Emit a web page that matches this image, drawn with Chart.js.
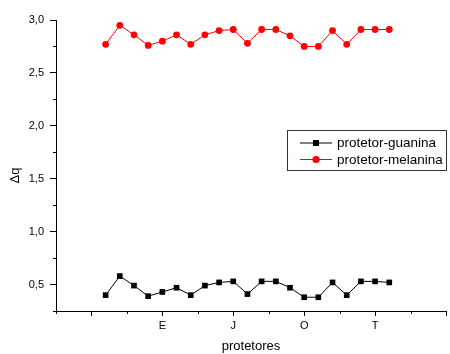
<!DOCTYPE html>
<html>
<head>
<meta charset="utf-8">
<script src="https://cdn.jsdelivr.net/npm/chart.js@4.4.0/dist/chart.umd.min.js"></script>
<style>
  html, body { margin: 0; padding: 0; background: #ffffff; }
  #wrap { width: 450px; height: 354px; }
</style>
</head>
<body>
<div id="wrap"><canvas id="grafico" width="450" height="354"></canvas></div>
<script>
// Posição de cada protetor no eixo x
const posicoes = [1, 2, 3, 4, 5, 6, 7, 8, 9, 10, 11, 12, 13, 14, 15, 16, 17, 18, 19, 20, 21];

// Δq medido para cada protetor
const guanina  = [0.40, 0.58, 0.49, 0.39, 0.43, 0.47, 0.40, 0.49, 0.52, 0.53, 0.41,
                  0.53, 0.53, 0.47, 0.38, 0.38, 0.52, 0.40, 0.53, 0.53, 0.52];
const melanina = [2.77, 2.95, 2.86, 2.76, 2.80, 2.86, 2.77, 2.86, 2.90, 2.91, 2.78,
                  2.91, 2.91, 2.85, 2.75, 2.75, 2.90, 2.77, 2.91, 2.91, 2.91];

// Rótulos do eixo x e onde ficam
const posRotulos = [5, 10, 15, 20];
const rotulosX   = ['E', 'J', 'O', 'T'];

const nomesSeries = ['protetor-guanina', 'protetor-melanina'];
const tituloY = 'Δq';

const FONTE = "'Liberation Sans', Arial, sans-serif";

const pares = (xs, ys) => xs.map((x, i) => ({ x: x, y: ys[i] }));

const eMaiorX = v => Math.abs(v / 5 - Math.round(v / 5)) < 1e-9;
const eMaiorY = v => Math.abs(v * 2 - Math.round(v * 2)) < 1e-9;

// Marcas menores dos eixos, mais curtas que as principais
const marcasMenores = {
  id: 'marcasMenores',
  afterDraw(chart) {
    const ctx = chart.ctx;
    const sx = chart.scales.x, sy = chart.scales.y;
    ctx.save();
    ctx.strokeStyle = '#000';
    ctx.lineWidth = 1;
    ctx.beginPath();
    sx.ticks.forEach(t => {
      if (!eMaiorX(t.value)) {
        const px = Math.round(sx.getPixelForValue(t.value)) + 0.5;
        ctx.moveTo(px, sx.top);
        ctx.lineTo(px, sx.top + 3);
      }
    });
    sy.ticks.forEach(t => {
      if (!eMaiorY(t.value)) {
        const py = Math.round(sy.getPixelForValue(t.value)) + 0.5;
        ctx.moveTo(sy.right, py);
        ctx.lineTo(sy.right - 3, py);
      }
    });
    ctx.stroke();
    ctx.restore();
  }
};

// Título do eixo y, girado, um pouco abaixo do meio do eixo
const tituloEixoY = {
  id: 'tituloEixoY',
  afterDraw(chart) {
    const ctx = chart.ctx;
    const a = chart.chartArea;
    ctx.save();
    ctx.translate(15, (a.top + a.bottom) / 2 + 10);
    ctx.rotate(-Math.PI / 2);
    ctx.fillStyle = '#000';
    ctx.font = '13px ' + FONTE;
    ctx.textAlign = 'center';
    ctx.textBaseline = 'middle';
    ctx.fillText(tituloY, 0, 0);
    ctx.restore();
  }
};

// Legenda em caixa, com linha e marcador de cada série
const legendaCaixa = {
  id: 'legendaCaixa',
  afterDraw(chart) {
    const ctx = chart.ctx;
    const bx = 287.5, by = 130.5, bw = 159, bh = 40;
    ctx.save();
    ctx.strokeStyle = '#333';
    ctx.lineWidth = 1;
    ctx.strokeRect(bx, by, bw, bh);
    const linhas = [143, 159.5];
    chart.data.datasets.forEach((ds, i) => {
      const y = linhas[i];
      ctx.strokeStyle = ds.borderColor;
      ctx.lineWidth = 1;
      ctx.beginPath();
      ctx.moveTo(300, y);
      ctx.lineTo(332, y);
      ctx.stroke();
      ctx.fillStyle = ds.pointBackgroundColor;
      if (ds.pointStyle === 'rect') {
        ctx.fillRect(316 - 3, y - 3, 6, 6);
      } else {
        ctx.beginPath();
        ctx.arc(316, y, 3.6, 0, Math.PI * 2);
        ctx.fill();
      }
      ctx.fillStyle = '#000';
      ctx.font = '13.5px ' + FONTE;
      ctx.textBaseline = 'middle';
      ctx.textAlign = 'left';
      ctx.fillText(ds.label, 337, y + 0.5);
    });
    ctx.restore();
  }
};

new Chart(document.getElementById('grafico'), {
  type: 'line',
  data: {
    datasets: [
      {
        label: nomesSeries[0],
        data: pares(posicoes, guanina),
        borderColor: '#000000',
        backgroundColor: '#000000',
        pointBackgroundColor: '#000000',
        pointBorderColor: '#000000',
        borderWidth: 1,
        pointStyle: 'rect',
        pointRadius: 4,
        pointBorderWidth: 0,
        tension: 0
      },
      {
        label: nomesSeries[1],
        data: pares(posicoes, melanina),
        borderColor: '#ff0000',
        backgroundColor: '#ff0000',
        pointBackgroundColor: '#ff0000',
        pointBorderColor: '#ff0000',
        borderWidth: 1,
        pointStyle: 'circle',
        pointRadius: 3.4,
        pointBorderWidth: 0,
        tension: 0
      }
    ]
  },
  options: {
    responsive: false,
    animation: false,
    devicePixelRatio: 1,
    layout: { padding: { top: 20, right: 0, left: 0, bottom: 0 } },
    plugins: {
      legend: { display: false },
      tooltip: { enabled: false }
    },
    scales: {
      x: {
        type: 'linear',
        position: 'bottom',
        min: -2.5,
        max: 25,
        border: { display: true, color: '#000', width: 1 },
        grid: {
          drawOnChartArea: false,
          drawTicks: true,
          tickLength: 5,
          tickColor: c => (c.tick && eMaiorX(c.tick.value)) ? '#000' : 'rgba(0,0,0,0)'
        },
        ticks: {
          stepSize: 2.5,
          autoSkip: false,
          maxRotation: 0,
          padding: 3,
          color: '#000',
          font: { family: FONTE, size: 11 },
          callback: v => {
            const i = posRotulos.indexOf(v);
            return i >= 0 ? rotulosX[i] : '';
          }
        },
        title: {
          display: true,
          text: 'protetores',
          color: '#000',
          font: { family: FONTE, size: 13 },
          padding: { top: 0, bottom: 0 }
        },
        afterFit: s => { s.height = 43; }
      },
      y: {
        type: 'linear',
        position: 'left',
        min: 0.25,
        max: 3.0,
        border: { display: true, color: '#000', width: 1 },
        grid: {
          drawOnChartArea: false,
          drawTicks: true,
          tickLength: 6,
          tickColor: c => (c.tick && eMaiorY(c.tick.value)) ? '#000' : 'rgba(0,0,0,0)'
        },
        ticks: {
          stepSize: 0.25,
          autoSkip: false,
          padding: 6,
          color: '#000',
          font: { family: FONTE, size: 11 },
          callback: v => eMaiorY(v) ? v.toFixed(1).replace('.', ',') : ''
        },
        title: { display: false },
        afterFit: s => { s.width = 56; }
      }
    }
  },
  plugins: [marcasMenores, tituloEixoY, legendaCaixa]
});
</script>
</body>
</html>
